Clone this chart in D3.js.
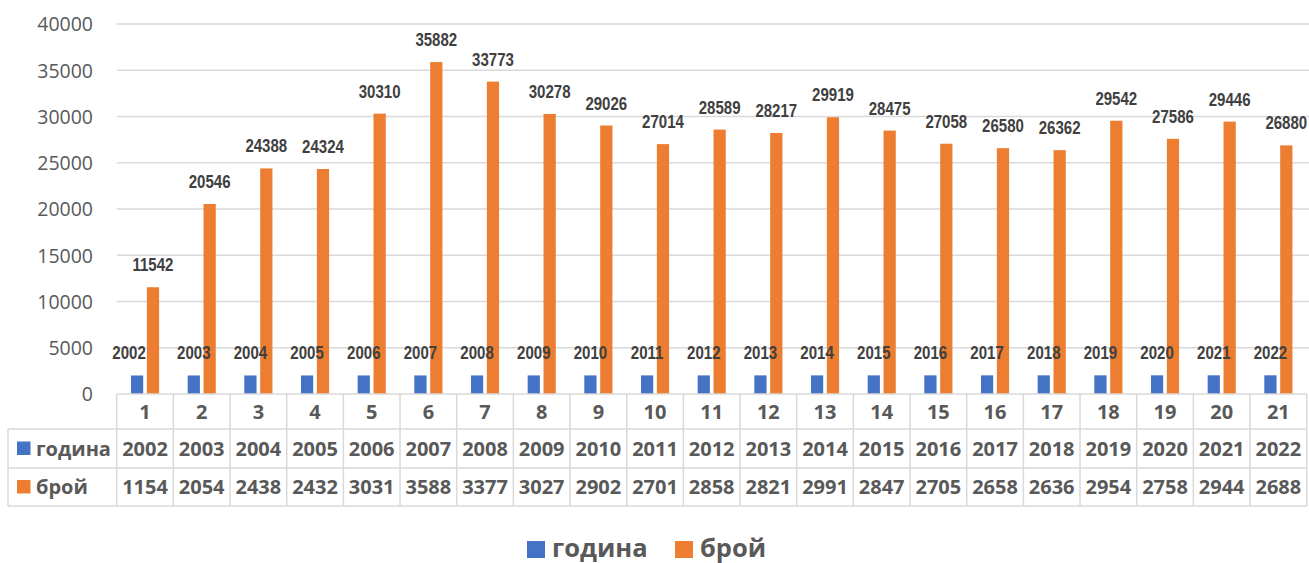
<!DOCTYPE html>
<html>
<head>
<meta charset="utf-8">
<script src="https://cdn.jsdelivr.net/npm/d3@7"></script>
<style>
  html, body { margin: 0; padding: 0; background: #fff; }
  svg { display: block; }
</style>
</head>
<body>
<svg id="chart" width="1309" height="563"></svg>
<script>
// ---- data ----
const categories = ["1","2","3","4","5","6","7","8","9","10","11","12","13","14","15","16","17","18","19","20","21"];
const seriesNames = ["година", "брой"];
const years = [2002,2003,2004,2005,2006,2007,2008,2009,2010,2011,2012,2013,2014,2015,2016,2017,2018,2019,2020,2021,2022];
const counts = [11542,20546,24388,24324,30310,35882,33773,30278,29026,27014,28589,28217,29919,28475,27058,26580,26362,29542,27586,29446,26880];
const yTicks = [0,5000,10000,15000,20000,25000,30000,35000,40000];
const colors = ["#4472C4", "#ED7D31"];

// ---- layout ----
const svg = d3.select("#chart");
const plotLeft = 116.7, plotRight = 1306.7, plotTop = 24, plotBottom = 394;
const rowLines = [394, 429, 468, 506];
const tableLeft = 8;
const gridColor = "#d9d9d9";
const textColor = "#595959";
const labelFont = "'Liberation Sans', Arial, sans-serif";
const mainFont = "'Open Sans', sans-serif";

const x = d3.scaleBand().domain(categories).range([plotLeft, plotRight]).paddingInner(0).paddingOuter(0);
const bw = x.bandwidth();
const x1 = d3.scaleBand().domain(seriesNames).range([bw * 0.252, bw * 0.748]).paddingInner(0.23).paddingOuter(0);
const y = d3.scaleLinear().domain([0, 40000]).range([plotBottom, plotTop]);

// gridlines
svg.append("g").selectAll("line").data(yTicks.filter(t => t > 0)).join("line")
  .attr("x1", plotLeft).attr("x2", 1309)
  .attr("y1", d => y(d)).attr("y2", d => y(d))
  .attr("stroke", gridColor).attr("stroke-width", 1.5);

// y axis labels
const yAxis = d3.axisLeft(y).tickValues(yTicks).tickSize(0).tickPadding(0).tickFormat(d3.format("d"));
const gy = svg.append("g").attr("transform", `translate(93,0)`).call(yAxis);
gy.select(".domain").remove();
gy.selectAll("text").attr("font-family", mainFont).attr("font-size", 19.5)
  .attr("fill", textColor).attr("dy", "0.35em");

// bars
const series = [years, counts];
const barG = svg.append("g");
series.forEach((vals, si) => {
  barG.append("g").selectAll("rect").data(vals).join("rect")
    .attr("x", (d, i) => x(categories[i]) + x1(seriesNames[si]))
    .attr("width", x1.bandwidth())
    .attr("y", d => y(d))
    .attr("height", d => plotBottom - y(d))
    .attr("fill", colors[si]);
});

// data labels (condensed bold)
series.forEach((vals, si) => {
  svg.append("g").selectAll("text").data(vals).join("text")
    .attr("transform", (d, i) => {
      let cx = x(categories[i]) + x1(seriesNames[si]) + x1.bandwidth() / 2;
      if (si === 0 && i === 0) cx -= 8; // first label nudged left as in reference
      return `translate(${cx},${y(d) - 16}) scale(0.86,1)`;
    })
    .attr("text-anchor", "middle")
    .attr("font-family", labelFont).attr("font-weight", "bold").attr("font-size", 17.5)
    .attr("fill", "#404040")
    .text(d => d);
});

// ---- data table ----
const tg = svg.append("g");
tg.selectAll("line.h").data(rowLines).join("line").attr("class", "h")
  .attr("x1", (d, i) => i === 0 ? plotLeft : tableLeft).attr("x2", plotRight)
  .attr("y1", d => d).attr("y2", d => d)
  .attr("stroke", gridColor).attr("stroke-width", 1.5);
const vx = categories.map(c => x(c)).concat([plotRight]);
tg.selectAll("line.v").data(vx).join("line").attr("class", "v")
  .attr("x1", d => d).attr("x2", d => d)
  .attr("y1", rowLines[0]).attr("y2", rowLines[3])
  .attr("stroke", gridColor).attr("stroke-width", 1.5);
tg.append("line").attr("x1", tableLeft).attr("x2", tableLeft)
  .attr("y1", rowLines[1]).attr("y2", rowLines[3])
  .attr("stroke", gridColor).attr("stroke-width", 1.5);

const rowMid = i => (rowLines[i] + rowLines[i + 1]) / 2;
const cellText = (sel) => sel.attr("font-family", mainFont).attr("font-weight", "bold")
  .attr("font-size", 20).attr("fill", textColor).attr("dy", "0.36em");

tg.append("g").selectAll("text").data(categories).join("text")
  .attr("x", d => x(d) + bw / 2).attr("y", rowMid(0)).attr("text-anchor", "middle")
  .call(cellText).text(d => d);

series.forEach((vals, si) => {
  tg.append("g").selectAll("text").data(vals).join("text")
    .attr("x", (d, i) => x(categories[i]) + bw / 2).attr("y", rowMid(si + 1)).attr("text-anchor", "middle")
    .call(cellText).text(d => String(d).slice(0, 4));
  tg.append("rect").attr("x", 17).attr("y", rowMid(si + 1) - 7).attr("width", 13.5).attr("height", 13.5)
    .attr("fill", colors[si]);
  tg.append("text").attr("x", 36).attr("y", rowMid(si + 1)).call(cellText).text(seriesNames[si]);
});

// ---- legend ----
const lg = svg.append("g");
const legendX = [527, 675];
seriesNames.forEach((name, i) => {
  lg.append("rect").attr("x", legendX[i]).attr("y", 541).attr("width", 18).attr("height", 17).attr("fill", colors[i]);
  lg.append("text").attr("x", legendX[i] + 25).attr("y", 557)
    .attr("font-family", mainFont).attr("font-weight", "bold").attr("font-size", 25.5)
    .attr("fill", textColor).text(name);
});
</script>
</body>
</html>
